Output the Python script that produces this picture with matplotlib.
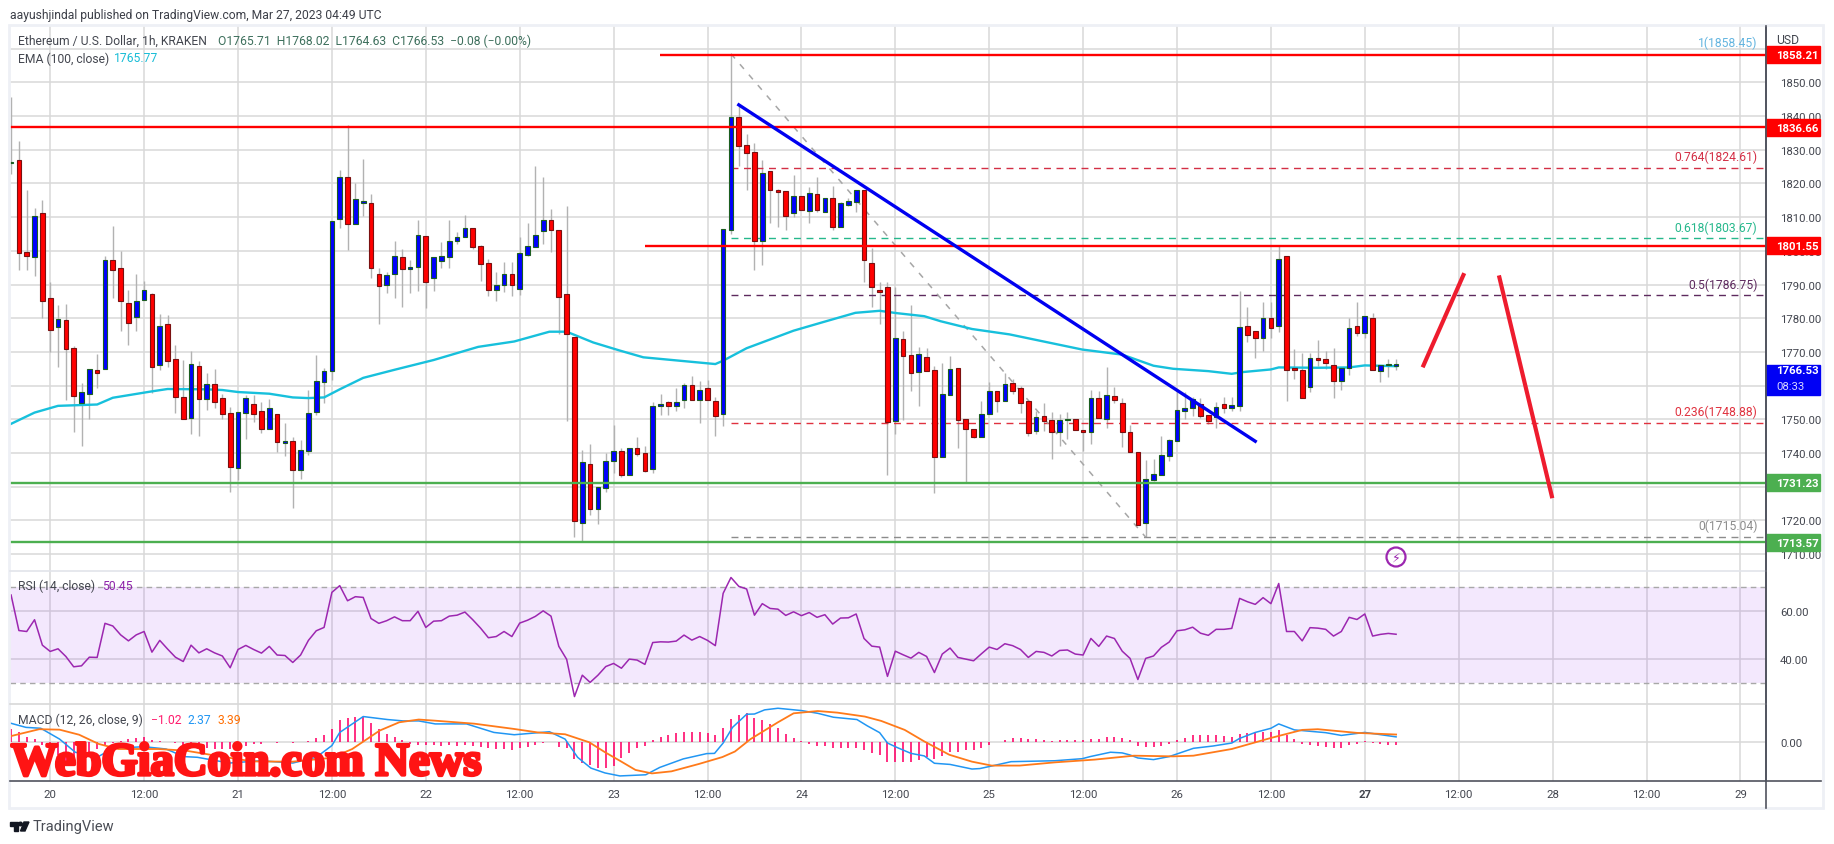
import matplotlib
matplotlib.use('Agg')
import matplotlib.pyplot as plt
from matplotlib.patches import Rectangle, Polygon, Circle
from matplotlib.transforms import Affine2D, blended_transform_factory
import matplotlib.patheffects as pe

plt.rcParams['font.family'] = ['Roboto', 'DejaVu Sans']

W, H = 1834, 845

# hourly candles, first one is 19 Mar 19:00, hour 0 is 20 Mar 00:00
first_hour = -5
opens = [1826.0,1826.9,1799.6,1798.1,1811.1,1785.9,1777.5,1779.4,1771.1,1754.7,1757.6,1764.5,1764.8,1797.2,1794.8,1784.4,1780.5,1785.5,1787.1,1766.0,1778.2,1767.8,1756.5,1750.3,1765.7,1756.1,1760.4,1756.2,1751.8,1735.7,1752.0,1754.5,1752.4,1747.2,1751.5,1743.1,1743.5,1735.1,1740.7,1752.3,1761.2,1764.3,1809.5,1821.8,1807.9,1814.3,1814.1,1793.0,1790.0,1793.2,1798.1,1794.7,1795.1,1804.3,1791.8,1797.1,1798.3,1802.8,1804.0,1806.9,1801.3,1796.3,1788.5,1789.8,1793.0,1788.8,1798.9,1801.2,1805.8,1809.1,1806.1,1787.3,1774.3,1719.3,1736.6,1723.5,1729.7,1737.7,1740.5,1733.6,1741.4,1739.9,1735.4,1754.1,1755.1,1754.1,1755.6,1760.1,1755.6,1759.2,1755.4,1751.7,1806.3,1839.6,1831.3,1829.2,1803.0,1823.6,1818.0,1817.7,1811.1,1816.2,1811.7,1816.8,1811.6,1815.6,1807.0,1813.5,1814.6,1818.0,1796.3,1788.4,1789.2,1749.6,1773.7,1769.0,1763.9,1768.4,1764.6,1738.7,1757.3,1765.1,1750.0,1747.0,1744.9,1751.7,1758.3,1755.3,1760.7,1759.2,1755.4,1746.4,1750.9,1749.7,1746.1,1749.9,1750.0,1746.7,1746.1,1756.2,1750.2,1756.8,1754.8,1746.2,1740.2,1719.1,1732.1,1733.6,1739.2,1743.7,1752.6,1753.3,1754.6,1751.2,1750.6,1754.5,1753.3,1754.1,1777.6,1776.1,1774.0,1780.0,1777.6,1798.5,1765.2,1764.6,1759.7,1768.1,1767.8,1766.2,1761.5,1765.1,1777.6,1775.7,1780.0,1764.3,1766.0,1765.71]
highs = [1845.5,1832.5,1818.0,1812.6,1815.1,1790.6,1783.9,1784.2,1771.7,1760.8,1764.8,1769.4,1798.4,1807.4,1799.9,1788.3,1793.1,1791.0,1787.5,1781.3,1781.0,1772.1,1767.6,1770.4,1767.3,1763.7,1764.9,1757.5,1753.6,1752.1,1757.3,1757.3,1755.0,1755.9,1751.5,1748.9,1744.7,1743.8,1758.7,1769.1,1765.2,1808.8,1823.9,1837.3,1820.1,1827.2,1816.9,1794.8,1793.6,1802.9,1800.5,1797.4,1809.2,1804.3,1798.1,1802.7,1809.2,1805.5,1810.6,1806.9,1801.7,1797.6,1793.6,1796.6,1796.6,1804.0,1808.2,1825.2,1821.9,1812.4,1806.1,1813.3,1774.3,1740.8,1742.7,1729.8,1740.0,1748.3,1741.5,1741.4,1744.7,1742.1,1755.1,1757.5,1755.4,1759.2,1760.8,1762.8,1761.3,1761.7,1756.5,1806.4,1858.4,1843.1,1834.7,1832.0,1827.0,1823.6,1818.3,1817.7,1822.5,1816.2,1818.8,1821.8,1815.6,1819.1,1814.4,1815.6,1818.0,1818.0,1800.7,1790.6,1790.6,1789.2,1776.1,1783.9,1771.5,1771.1,1765.7,1766.7,1768.8,1765.1,1750.0,1747.0,1755.5,1761.0,1758.3,1763.8,1762.0,1760.0,1755.4,1752.6,1754.9,1752.1,1751.6,1752.1,1750.0,1746.7,1758.8,1758.3,1765.4,1759.5,1756.3,1748.3,1740.2,1737.8,1738.2,1745.0,1744.2,1759.0,1758.0,1756.5,1756.2,1751.2,1755.0,1756.5,1756.5,1788.2,1783.2,1776.1,1784.9,1784.9,1801.5,1798.5,1770.9,1769.7,1769.7,1773.6,1770.4,1771.1,1765.2,1780.0,1784.9,1780.6,1781.6,1766.0,1767.9,1768.02]
lows = [1822.8,1794.4,1794.4,1792.6,1780.1,1769.9,1765.6,1755.8,1746.1,1742.2,1750.1,1759.4,1764.8,1786.0,1776.3,1772.2,1776.3,1785.5,1757.7,1764.7,1765.6,1751.9,1750.2,1745.5,1745.2,1752.9,1753.5,1750.1,1728.5,1732.0,1744.3,1749.3,1746.0,1747.2,1740.3,1739.2,1723.8,1732.3,1739.5,1751.4,1754.9,1761.7,1806.8,1800.2,1807.9,1810.4,1792.0,1778.4,1787.5,1786.0,1783.4,1787.5,1788.0,1783.0,1788.1,1795.0,1794.8,1801.9,1804.0,1800.5,1791.1,1786.7,1785.2,1787.9,1786.7,1786.9,1798.6,1801.0,1802.0,1799.7,1775.3,1749.6,1715.2,1714.0,1721.7,1718.8,1728.5,1734.1,1733.0,1733.6,1739.0,1734.5,1734.2,1751.4,1751.4,1752.6,1753.4,1755.6,1749.0,1755.6,1745.2,1748.1,1805.0,1825.3,1818.1,1794.4,1795.8,1808.2,1807.2,1806.3,1810.0,1812.2,1808.2,1811.4,1811.6,1806.3,1807.0,1813.2,1811.6,1790.8,1783.4,1778.3,1733.6,1745.5,1749.9,1758.4,1754.1,1764.2,1728.2,1738.7,1757.3,1741.5,1731.5,1744.6,1744.9,1751.7,1752.3,1755.3,1757.5,1751.9,1745.2,1745.5,1746.4,1738.3,1742.2,1744.2,1746.9,1740.7,1742.8,1750.5,1747.5,1754.9,1741.9,1740.4,1718.5,1715.1,1731.8,1733.6,1737.5,1743.7,1750.1,1751.1,1750.3,1748.6,1747.3,1751.9,1752.6,1752.6,1772.9,1768.2,1770.4,1774.0,1775.8,1755.3,1762.0,1756.4,1758.2,1765.9,1765.0,1756.4,1758.8,1763.2,1774.6,1774.0,1764.5,1761.0,1762.6,1764.63]
closes = [1826.4,1799.4,1798.6,1810.2,1785.2,1776.6,1779.7,1771.0,1757.0,1758.0,1764.8,1763.8,1797.2,1794.4,1785.2,1778.7,1785.0,1788.3,1765.6,1777.6,1767.4,1756.7,1750.2,1766.3,1756.1,1760.4,1755.2,1751.7,1736.0,1752.1,1756.2,1751.7,1747.2,1753.3,1743.4,1743.5,1735.1,1740.8,1751.8,1761.3,1764.3,1808.8,1821.8,1808.0,1815.3,1814.7,1795.0,1789.7,1792.7,1798.4,1794.7,1795.1,1804.6,1790.8,1798.1,1798.4,1803.0,1804.0,1806.9,1801.2,1796.2,1788.5,1789.8,1793.0,1790.0,1799.3,1801.3,1804.6,1809.1,1806.1,1786.2,1775.2,1719.7,1737.2,1723.5,1729.8,1737.5,1740.5,1733.6,1741.4,1739.7,1734.8,1753.9,1754.5,1754.1,1755.1,1760.1,1755.6,1758.6,1755.6,1751.1,1806.4,1839.6,1831.2,1829.1,1803.0,1823.0,1818.1,1817.3,1810.4,1816.2,1812.2,1817.1,1812.2,1815.6,1807.2,1814.1,1814.7,1818.0,1797.4,1789.2,1787.9,1749.1,1774.0,1768.9,1763.7,1769.3,1764.2,1738.9,1757.4,1764.8,1749.9,1747.2,1744.9,1751.5,1758.3,1755.3,1760.6,1758.5,1754.7,1745.8,1750.6,1749.6,1746.1,1749.9,1750.1,1746.9,1746.1,1756.2,1750.5,1757.1,1755.6,1746.1,1740.4,1718.5,1732.2,1733.7,1739.3,1743.8,1752.7,1753.3,1756.0,1751.1,1749.6,1753.6,1753.5,1754.2,1777.3,1775.1,1774.0,1780.0,1777.0,1797.7,1764.5,1764.5,1756.4,1768.1,1767.6,1766.8,1761.5,1765.2,1777.0,1775.7,1780.6,1764.5,1766.0,1766.5,1766.53]

ema_hours = [-5.15,-2,1,6,8,13,15,20,22,24,28,31,33,35,37,40,44,49,54.7,59.3,63.8,66,69.4,72.8,75.8,80.4,85,86,89,95,99,102.9,106,108.2,111.7,113.8,117.8,122.6,131.9,137,141,143.5,148,151,152.3,156,157,162,166,168,172]
ema_vals = [1748.5,1752,1754,1754.4,1756.4,1758.3,1759,1758.9,1758.7,1758.1,1757.6,1756.5,1756.3,1756.5,1758.9,1762.3,1764.7,1767.6,1771.5,1773.1,1776,1776,1772.8,1770.4,1768.4,1767.4,1766.4,1767.4,1771.1,1776.3,1779,1781.6,1782.2,1781.5,1780.6,1779.1,1776.8,1775.2,1770.7,1769.2,1765.9,1765,1764.3,1763.5,1764,1764.8,1765.4,1765.3,1765.4,1766,1765.77]

rsi_vals = [66.8,52.0,51.6,56.5,45.9,43.3,44.4,41.2,36.9,37.3,40.9,40.8,55,53.9,50.2,47.7,50.2,51.6,43,47.9,44.3,40.9,39.1,45.9,42.7,44.4,42.7,41.4,36.5,44.1,45.8,44.1,42.6,45.4,41.8,41.6,38.7,41.8,47.9,51.9,53.3,67.9,70.7,64.4,66.1,65.8,57.0,55,56.1,57.7,56.1,56.1,60,53.3,55.9,56.1,58,58.4,59.7,56.5,53,49,49.5,51.6,49.5,55.1,56.3,57.9,60.2,58,45.4,40,24.5,33.4,30.4,33.4,37,38.3,36.3,40.1,39.7,37.9,47,47.3,47.2,47.6,50.1,48,49.5,47.9,45.7,67.5,74.1,70.4,69.3,58.4,63.2,61.2,60.9,58.3,59.8,58.2,59.5,57.5,58.6,54.7,57.2,57.3,58.9,48.7,45.5,45.1,32.9,43.4,41.9,40.5,42.9,41.2,34.5,42.2,44.7,40.8,40.1,39.4,42.3,45.1,44.1,46.5,45.7,44.1,40.8,43.3,42.9,41.4,43.7,43.9,42.2,41.8,48.7,45.4,49.7,48.7,43.4,40.4,31.6,40.4,41.4,45,47.2,51.9,52.3,53.4,50.9,50,52.5,52.5,52.9,65.4,64,62.9,65.7,63.2,71.6,51.6,51.6,47.7,53.2,53,52.5,49.7,51.6,57.5,56.6,58.9,49.7,50.4,50.8,50.45]

hist_vals = [5.8,4.3,2.2,1.4,-1,-3,-5.5,-8,-9.5,-8,-5.5,-3,-1.5,-0.5,0.5,1.5,2,2.2,0.8,0.5,0.3,-0.5,-1.8,-2.5,-2.5,-2.5,-2.8,-2.8,-3,-2.8,-1.5,-0.8,-0.6,0.3,-0.3,0.2,-0.3,0.2,0.5,2,3,5.8,9.8,10.4,10.9,10.9,8.4,5.8,3.6,2.2,1.2,-0.8,-1,-1.2,-1.3,-1.4,-1.2,-1.4,-1.3,-1.6,-2,-2.6,-2.9,-2.9,-3.2,-2.6,-2.2,-1.2,-0.3,0.3,-2.2,-2.6,-7.2,-9,-10,-11.2,-11,-10.1,-6.8,-4.5,-2.5,-1.4,1,2.3,3.3,4.1,4.3,4.5,4.3,4.1,3.3,6.2,10,11.9,12.6,10.6,9.7,8,6.2,3.6,1.9,0.4,-0.7,-1.4,-1.4,-2.5,-2.5,-2.5,-2.5,-3.3,-4.6,-5.5,-8.4,-8.4,-8.4,-8.4,-7.7,-6.5,-7.2,-5.8,-4.3,-4.1,-3.3,-3.3,-2.5,-1,0.2,1,1.9,1.9,1.4,1.4,1,0.4,1,1,0.9,0.9,1.4,1.4,2.3,2.3,1.9,1,-1.4,-1.9,-1.9,-1.4,-0.7,1,1.9,3.2,3.2,3.2,3.2,2.9,2.5,3.6,4.1,4.3,4.5,4.5,5.2,3.3,1.3,-0.7,-1,-1.4,-1.9,-2.3,-2.3,-1,-0.6,0.6,-0.4,-0.6,-1,-1.02]

macd_hours = [-5.15,-3.1,-1.2,1.2,3.2,6,8,12,14.8,17.1,18.8,22.9,26.9,31,34,36,37,40,43.1,45.1,47.1,49.2,53.2,56.7,59.3,63.8,65.8,67.4,69.1,70.9,72.8,76.1,77.9,80.9,83.9,84.9,86,87.2,89,90,91.3,93,96,98.1,100.1,103.1,104.4,106,107,108.2,110,111.7,113,115,117.8,118.8,120.3,122.8,128.4,131.9,132.9,135.5,137,138,139,141,143,146.1,148.6,151,152,154,156,157,159,163,165,168,172]
macd_vals = [8.4,6.5,6.1,1.4,-4.3,-6.5,-2.6,-1.9,-2.9,-6.2,-6.5,-9,-8,-9,-6.5,-1.4,4.3,11.2,9.9,9.3,9.3,8,8,4.3,3.3,4.6,1.4,-6.5,-11.2,-13.3,-14.6,-14.1,-10.9,-7.2,-4.9,-4.8,-0.3,6.5,12.2,12.3,14.1,14.8,13.8,12.6,10.9,9.9,7.2,4.2,-0.3,-2.2,-4.8,-5.9,-9.1,-9.6,-11.6,-11.4,-10.3,-8.4,-8,-7.1,-6.2,-4.3,-4.6,-5.5,-6.8,-7.5,-6.2,-2.6,-1.6,-0.3,1.7,4.3,6.1,8,5.4,4.2,3,4.3,2.37]

signal_hours = [-5.15,-1.4,1.2,3.7,6.2,8.7,13.8,17.3,21.9,25.9,31,36,38.6,42.1,44.6,47.1,49.2,54.2,59.3,62.3,65.8,68.9,70.9,72.8,74.8,76.9,79.4,82.9,85.9,87.5,89.5,93,95,98.1,100.6,104.1,106.2,109.2,111.7,114.9,117.8,120.3,123.9,128.4,133.5,138.5,143.5,146.1,151,156,160,162,167,172]
signal_vals = [2.6,5.7,5.5,3.3,-0.7,-2.9,-2.9,-3.6,-6.2,-8.3,-8.4,-6.7,-2.9,5.1,8.7,9.9,9.4,8.1,5.8,4.3,3.5,0,-4.3,-8,-12,-13.5,-12.6,-9.4,-6.4,-4,1.4,8.7,12.6,13.6,12.9,11.2,9.3,5.4,0.4,-5.4,-8.4,-10.1,-10.1,-8.7,-7.5,-5.8,-6.1,-5.8,-2.9,1.9,5.4,5.7,4.1,3.39]

time_ticks = [0,12,24,36,48,60,72,84,96,108,120,132,144,156,168,180,192,204,216]
time_labels = ['20','12:00','21','12:00','22','12:00','23','12:00','24','12:00','25','12:00','26','12:00','27','12:00','28','12:00','29']

price_ticks = [1710,1720,1730,1740,1750,1760,1770,1780,1790,1800,1810,1820,1830,1840,1850,1860]
red_levels = [(1858.21, 77.9), (1836.66, -6), (1801.55, 76)]
green_levels = [1731.23, 1713.57]
trend_x, trend_y = [88, 154], [1843.3, 1743.5]
fib_x, fib_y = [87, 140], [1858.45, 1715.04]
fib_levels = [(1, 1858.45, '#64b5e0'), (0.764, 1824.61, '#d32f45'), (0.618, 1803.67, '#26b88c'),
              (0.5, 1786.75, '#5d2a5e'), (0.236, 1748.88, '#e0323f'), (0, 1715.04, '#8c8c8c')]
arrow1_x, arrow1_y = [175.5, 180.6], [1766, 1792.8]
arrow2_x, arrow2_y = [185.2, 191.9], [1792.1, 1727.2]

GRID = '#d8d8d8'
TXT = '#43464f'
FS = 8.7
TICK_FS = 8.2

fig = plt.figure(figsize=(W / 100, H / 100), dpi=100, facecolor='white')
px = Affine2D().scale(1 / W, -1 / H).translate(0, 1) + fig.transFigure


def pane(y0, y1):
    return fig.add_axes([10 / W, 1 - y1 / H, 1756 / W, (y1 - y0) / H])


ax1 = pane(27, 572)
ax2 = pane(572, 705)
ax3 = pane(705, 782)
xlim = ((10 - 50.2) / 7.825, (1766 - 50.2) / 7.825)

for ax in (ax1, ax2, ax3):
    ax.set_xlim(*xlim)
    ax.set_xticks(time_ticks)
    ax.set_axisbelow(True)
    ax.grid(True, color=GRID, lw=1.1)
    ax.yaxis.tick_right()
    ax.tick_params(axis='y', length=0, pad=10, labelsize=TICK_FS, labelcolor=TXT)
    ax.tick_params(axis='x', length=0, labelbottom=False)
    for s in ax.spines.values():
        s.set_visible(False)
    ax.spines['right'].set_visible(True)
    ax.spines['right'].set_color('#50535e')
    ax.spines['right'].set_linewidth(1.2)

# main pane
ax1.set_ylim(1705.0, 1866.7)
ax1.set_yticks(price_ticks)
ax1.set_yticklabels(['%.2f' % p for p in price_ticks[:-1]] + [''])

hours = [first_hour + i for i in range(len(opens))]
ax1.vlines(hours, lows, highs, color='#b2b2b2', lw=1, zorder=2)
for h, o, c in zip(hours, opens, closes):
    up = c >= o
    ax1.add_patch(Rectangle((h - 0.3, min(o, c)), 0.6, max(abs(c - o), 0.25),
                            facecolor='#0000ff' if up else '#ff0000',
                            edgecolor='#1b5e20' if up else '#7a1010', lw=0.8, zorder=3))

ax1.plot(ema_hours, ema_vals, color='#17c0dc', lw=1.7, zorder=2.5)

tag_tf = blended_transform_factory(px, ax1.transData)
for name, lv, col in fib_levels:
    if lv != 1858.45:
        ax1.plot([fib_x[0], xlim[1]], [lv, lv], color=col, lw=1, dashes=(5, 4), zorder=2)
    ax1.annotate('%g(%.2f)' % (name, lv), (1757.5, lv), xycoords=tag_tf,
                 xytext=(0, 3.5), textcoords='offset points', ha='right', va='bottom',
                 fontsize=FS, color=col)
ax1.plot(fib_x, fib_y, color='#a6a6a6', lw=1.1, dashes=(4, 5), zorder=2)

for lv, start in red_levels:
    ax1.plot([start, xlim[1]], [lv, lv], color='#ff0000', lw=1.7, solid_capstyle='butt', zorder=4)
for lv in green_levels:
    ax1.plot([xlim[0], xlim[1]], [lv, lv], color='#4caf50', lw=1.7, solid_capstyle='butt', zorder=4)
ax1.plot(trend_x, trend_y, color='#0000f0', lw=2.4, zorder=5)
ax1.plot(arrow1_x, arrow1_y, color='#ee1c2e', lw=3.0, zorder=5)
ax1.plot(arrow2_x, arrow2_y, color='#ee1c2e', lw=3.0, zorder=5)

# price tags on the scale
for lv, col in [(1858.21, '#ff0000'), (1836.66, '#ff0000'), (1801.55, '#ff0000'),
                (1731.23, '#4caf50'), (1713.57, '#4caf50')]:
    ax1.add_patch(Rectangle((1766, lv - 2.5), 54, 5, transform=tag_tf, color=col, clip_on=False, zorder=6))
    ax1.text(1776, lv - 0.2, '%.2f' % lv, transform=tag_tf, color='white', fontsize=TICK_FS, fontweight='bold',
             ha='left', va='center', clip_on=False, zorder=7)
ax1.add_patch(Rectangle((1766, 1757.2), 54, 9.0, transform=tag_tf, color='#0000f5', clip_on=False, zorder=6))
ax1.text(1776, 1764.7, '1766.53', transform=tag_tf, color='white', fontsize=TICK_FS, fontweight='bold',
         ha='left', va='center', clip_on=False, zorder=7)
ax1.text(1776, 1759.8, '08:33', transform=tag_tf, color='#d5d5ff', fontsize=TICK_FS,
         ha='left', va='center', clip_on=False, zorder=7)

# rsi pane
ax2.set_ylim(21.4, 76.8)
ax2.set_yticks([40, 60])
ax2.set_yticklabels(['40.00', '60.00'])
ax2.axhspan(30, 70, color='#8e24ee', alpha=0.1, lw=0, zorder=1)
for lv in (30, 70):
    ax2.axhline(lv, color='#a8a8a8', lw=1, dashes=(4, 3), zorder=1.5)
ax2.plot(hours, rsi_vals, color='#9c27b0', lw=1.1, zorder=3)

# macd pane
ax3.set_ylim(-16.8, 16.65)
ax3.set_yticks([0])
ax3.set_yticklabels(['0.00'])
ax3.vlines(hours, 0, hist_vals, color='#ff0a6c', lw=1.2, zorder=2)
ax3.plot(macd_hours, macd_vals, color='#2196f3', lw=1.1, zorder=3)
ax3.plot(signal_hours, signal_vals, color='#ff7a1a', lw=1.3, zorder=3)
ax3.tick_params(axis='x', labelbottom=True, pad=6, labelsize=TICK_FS, labelcolor=TXT)
ax3.set_xticklabels(time_labels)
ax3.get_xticklabels()[14].set_fontweight('bold')

# frame, separators
fig.add_artist(Rectangle((9, 26), 1814, 783, transform=px, fill=False, edgecolor='#eef0f5', lw=2))
fig.add_artist(plt.Line2D([10, 1766], [572, 572], transform=px, color='#e2e4ea', lw=1.2))
fig.add_artist(plt.Line2D([10, 1766], [705, 705], transform=px, color='#d8d8d8', lw=1.2))
fig.add_artist(plt.Line2D([10, 1821], [782, 782], transform=px, color='#50535e', lw=1.2))
fig.add_artist(plt.Line2D([1766, 1766], [27, 809], transform=px, color='#50535e', lw=1.2))


def label(x, y, s, col=TXT, **kw):
    fig.text(x, y, s, transform=px, color=col, fontsize=kw.pop('fontsize', FS), ha='left', va='center', **kw)


label(10, 15, 'aayushjindal published on TradingView.com, Mar 27, 2023 04:49 UTC', '#3c3f48')
label(18, 41.5, 'Ethereum / U.S. Dollar, 1h, KRAKEN')
label(218, 41.5, 'O1765.71  H1768.02  L1764.63  C1766.53  \u22120.08 (\u22120.00%)', '#3d6f5c')
label(18, 59, 'EMA (100, close)')
label(114, 59, '1765.77', '#17bcd6')
label(18, 586.7, 'RSI (14, close)')
label(102, 586.7, '50.45', '#8e24aa')
label(18, 720.7, 'MACD (12, 26, close, 9)')
label(151, 720.7, '\u22121.02', '#ff1a6c')
label(187.4, 720.7, '2.37', '#2196f3')
label(218, 720.7, '3.39', '#ff6d00')
label(1776, 40, 'USD')

# lightning marker
fig.add_artist(Circle((1396, 558), 9.5, transform=px, fill=False, edgecolor='#9c27b0', lw=1.6))
fig.text(1396, 558, '\u26a1', transform=px, color='#9c27b0', fontsize=9, ha='center', va='center',
         family=['DejaVu Sans'])

# watermark
fig.text(11, 776, 'WebGiaCoin.com News', transform=px, color='#ff1414', fontsize=33.5, ha='left', va='baseline',
         family=['Liberation Serif'], fontweight='bold',
         path_effects=[pe.withStroke(linewidth=2.4, foreground='#ff1414')])

# footer logo
fig.add_artist(Polygon([(10, 823), (18, 823), (18, 832), (14, 832), (14, 826.5), (10, 826.5)], transform=px, color='#131722'))
fig.add_artist(Circle((20.5, 825), 1.8, transform=px, color='#131722'))
fig.add_artist(Polygon([(24, 823), (29, 823), (25, 832), (20.5, 832)], transform=px, color='#131722'))
label(33, 827, 'TradingView', '#4a4d55', fontsize=10.5)

fig.savefig('out.png', dpi=100)
